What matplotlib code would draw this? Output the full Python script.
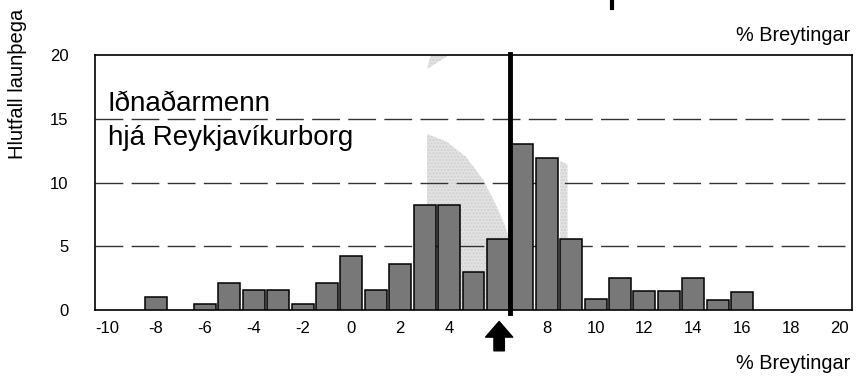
import matplotlib.pyplot as plt
import numpy as np
from matplotlib.patches import Polygon, FancyArrowPatch
from matplotlib.lines import Line2D

plt.rcParams['font.family'] = ['Liberation Sans', 'DejaVu Sans']

#percent change bins and share of employees in each bin
changes = [-8, -7, -6, -5, -4, -3, -2, -1, 0, 1, 2, 3, 4, 5, 6, 7, 8, 9, 10, 11, 12, 13, 14, 15, 16]
shares = [1.0, 0.0, 0.5, 2.1, 1.6, 1.6, 0.5, 2.1, 4.2, 1.6, 3.6, 8.2, 8.2, 3.0, 5.6, 13.0, 11.9, 5.6, 0.9, 2.5, 1.5, 1.5, 2.5, 0.8, 1.4]

x_ticks = list(range(-10, 21, 2))
x_labels = [str(t) if t != 6 else "" for t in x_ticks]
y_ticks = [0, 5, 10, 15, 20]

title = "Iðnaðarmenn\nhjá Reykjavíkurborg"
y_label = "Hlutfall launþega"
x_label = "% Breytingar"
marker_x = 6.5    #thick vertical line
arrow_x = 6.05    #arrow under the axis

fig = plt.figure(figsize=(8.62, 3.77), dpi=100)
ax = fig.add_axes([0.1102, 0.1777, 0.8782, 0.6764])

#light grey smudge from the scan behind the bars
shade_kw = dict(closed=True, facecolor='#e2e2e2', edgecolor='#cfcfcf', hatch='.....',
                linewidth=0, zorder=1)
ax.add_patch(Polygon([(3.1, 0), (3.1, 13.8), (3.9, 13.2), (4.7, 12.0), (5.4, 10.2),
                      (5.9, 8.3), (6.3, 6.6), (6.45, 5.6), (6.45, 0)], **shade_kw))
ax.add_patch(Polygon([(3.1, 18.9), (3.25, 20), (4.0, 20)], **shade_kw))
ax.add_patch(Polygon([(8.55, 5.6), (8.55, 11.7), (8.85, 11.4), (8.85, 5.6)], **shade_kw))

#dashed grid lines
for yv in y_ticks[1:-1]:
    ax.axhline(yv, color='#333333', lw=1.0, linestyle=(0, (20, 6)), zorder=2)

xs = np.array(changes)
hs = np.array(shares)
mask = hs > 0
ax.bar(xs[mask], hs[mask], width=0.9, color='#787878', edgecolor='black', linewidth=1.1, zorder=3)

ax.plot([marker_x, marker_x], [-0.25, 20.1], color='black', lw=3.5, zorder=4, clip_on=False)

ax.set_xlim(-10.5, 20.5)
ax.set_ylim(0, 20)
ax.set_xticks(x_ticks)
ax.set_xticklabels(x_labels)
ax.set_yticks(y_ticks)
ax.tick_params(axis='both', length=0, labelsize=12)
ax.tick_params(axis='y', pad=19)
ax.tick_params(axis='x', pad=8)
for sp in ax.spines.values():
    sp.set_linewidth(1.2)
    sp.set_color('black')

ax.text(0.017, 0.86, title, transform=ax.transAxes, ha='left', va='top',
        fontsize=20, linespacing=1.42, zorder=5)

fig.text(0.986, 0.891, x_label, ha='right', va='baseline', fontsize=14.3)
fig.text(0.986, 0.021, x_label, ha='right', va='baseline', fontsize=14.3)
fig.text(0.02, 0.777, y_label, rotation=90, ha='center', va='center', fontsize=14.5)

#arrow under the axis
arr = FancyArrowPatch((arrow_x, -3.2), (arrow_x, -0.9),
                      arrowstyle='simple,head_width=1.3,head_length=0.75,tail_width=0.5',
                      mutation_scale=15, color='black', clip_on=False, zorder=6,
                      shrinkA=0, shrinkB=0)
ax.add_patch(arr)

#tail of an arrow cut off at the top of the page
fig.add_artist(Line2D([612 / 862, 612 / 862], [369 / 377, 1.0], color='black', lw=3))

fig.savefig('out.png', dpi=100)
